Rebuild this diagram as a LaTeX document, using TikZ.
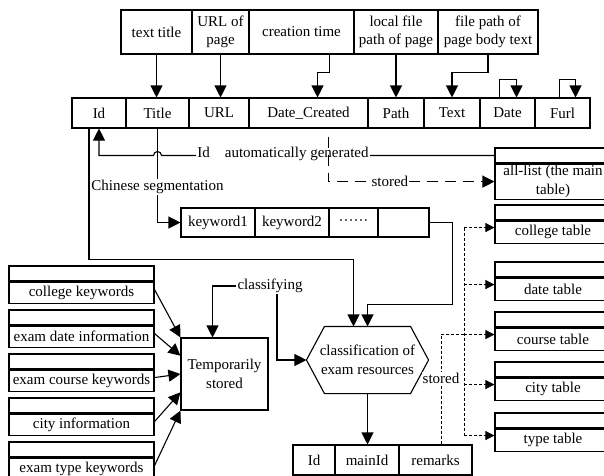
\documentclass[tikz,border=0pt]{standalone}
\usepackage{fontspec}
\setmainfont{Liberation Serif}
\usetikzlibrary{positioning}
\usetikzlibrary{arrows.meta}
\usetikzlibrary{calc}

\begin{document}
\begin{tikzpicture}[x=1pt, y=1pt, line width=1.1pt,
    every node/.style={font=\fontsize{15}{18.5}\selectfont},
    n/.style={draw, inner sep=0pt, align=center},
    wh/.style 2 args={minimum width=#1pt, minimum height=#2pt},
    arr/.style={-{Triangle[length=12pt, width=12pt]}},
    stor/.style={line width=0.8pt, dash pattern=on 3pt off 2pt, -{Triangle[length=9pt, width=9pt]}},
    lbl/.style={fill=white, inner sep=1pt}]
    \useasboundingbox (0,0) rectangle (604,-475);

    % page attributes
    \node[n, wh={71}{44}] (t1) at (156.5,-32) {text title};
    \node[n, wh={57}{44}] (t2) at (220.5,-32) {URL of\\page};
    \node[n, wh={105}{44}] (t3) at (301.5,-32) {creation time};
    \node[n, wh={84}{44}] (t4) at (396,-32) {local file\\path of page};
    \node[n, wh={100}{44}] (t5) at (488,-32) {file path of\\page body text};

    % main record
    \node[n, wh={54}{30}] (m1) at (99,-113) {Id};
    \node[n, wh={63}{30}] (m2) at (157.5,-113) {Title};
    \node[n, wh={60}{30}] (m3) at (219,-113) {URL};
    \node[n, wh={119}{30}] (m4) at (308.5,-113) {Date\_Created};
    \node[n, wh={56}{30}] (m5) at (396,-113) {Path};
    \node[n, wh={56}{30}] (m6) at (452,-113) {Text};
    \node[n, wh={55}{30}] (m7) at (507.5,-113) {Date};
    \node[n, wh={55}{30}] (m8) at (562.5,-113) {Furl};

    \draw[arr] (t1.south) -- (t1.south |- m2.north);
    \draw[arr] (t2.south) -- (t2.south |- m3.north);
    \draw[arr] ([xshift=28pt]t3.south) -- ++(0,-18) -| ([xshift=9pt]m4.north);
    \draw[arr] (t4.south) -- (m5.north);
    \draw[arr] (t5.south) -- ++(0,-18) -| (m6.north);
    \draw[arr] ([xshift=-8pt]m7.north) -- ++(0,18) -| ([xshift=9pt]m7.north);
    \draw[arr] ([xshift=-3pt]m8.north) -- ++(0,18) -| ([xshift=13pt]m8.north);

    % tables
    \node[n, wh={116}{15}] (at) at (553,-155.5) {};
    \node[n, wh={116}{35}, below=0pt of at] (ab) {all-list (the main\\table)};
    \foreach \lab/\yy [count=\i] in {college/205, date/262, course/312, city/362, type/413} {
        \node[n, wh={116}{15}] (ct\i) at (553,-\yy-7.5) {};
        \node[n, wh={116}{22}, below=0pt of ct\i] (cb\i) {\lab\ table};
    }

    % keywords
    \node[n, wh={74}{29}] (k1) at (218,-222.5) {keyword1};
    \node[n, wh={74}{29}] (k2) at (292,-222.5) {keyword2};
    \node[n, wh={49}{29}] (k3) at (353.5,-222.5) {······};
    \node[n, wh={51}{29}] (k4) at (403.5,-222.5) {};

    \draw[arr] (at.west) -- ([xshift=4pt]m2.south |- at.west) arc[start angle=0, end angle=180, radius=4pt] -- (m1.south |- at.west) -- (m1.south);
    \node[lbl] (idg) at (283,-154) {Id\quad automatically generated};
    \draw[arr] (m2.south) |- (k1.west);
    \node[lbl] (seg) at (157.5,-187) {Chinese segmentation};
    \draw[arr, dash pattern=on 11pt off 7pt] ([xshift=20pt, yshift=-8pt]m4.south) |- node[lbl, pos=0.685] (st1) {stored} (ab.west);

    % classification
    \node[inner sep=0pt, wh={121}{66}, align=center] (hex) at (367.5,-360) {classification of\\exam resources};
    \draw (hex.west) -- ([xshift=18pt]hex.north west) -- ([xshift=-18pt]hex.north east) -- (hex.east)
        -- ([xshift=-18pt]hex.south east) -- ([xshift=18pt]hex.south west) -- cycle;
    \draw[arr] ([xshift=-10pt]m1.south) -- ++(0,-131) -| ([xshift=-14pt]hex.north);
    \draw[arr] (k4.east) -- ++(23,0) -- ++(0,-82) -| (hex.north);

    \node[n, wh={87}{72}] (tmp) at (224.5,-374) {Temporarily\\stored};
    \node[lbl] (cls) at (270,-286) {classifying};
    \draw[arr] (cls.west) -| ([xshift=-12pt]tmp.north);
    \draw[arr] ([xshift=7pt]cls.south) |- (hex.west);

    \foreach \lab [count=\i] in {college keywords, exam date information, exam course keywords, city information, exam type keywords} {
        \node[n, wh={145}{15}] (kt\i) at (81.5,-273.5-44*\i+44) {};
        \node[n, wh={145}{21}, below=0pt of kt\i] (kb\i) {\lab};
        \draw[arr] ([yshift=-8pt]kb\i.north east) -- ($(tmp.north west)!{(\i-1)/4}!(tmp.south west)$);
    }

    % result record
    \node[n, wh={42}{30}] (b1) at (314,-460) {Id};
    \node[n, wh={64}{30}] (b2) at (367,-460) {mainId};
    \node[n, wh={73}{30}] (b3) at (435.5,-460) {remarks};
    \draw[arr] (hex.south) -- (hex.south |- b2.north);

    \foreach \i in {1,...,5} \coordinate (tg\i) at ([yshift=-7pt]cb\i.north west);
    \draw[stor, -] ([xshift=-30pt]tg1) -- ([xshift=-30pt]tg5);
    \foreach \i in {1,...,5} \draw[stor] ([xshift=-30pt]tg\i) -- (tg\i);
    \draw[stor, -] ([xshift=5.5pt]b3.north) |- node[lbl, pos=0.3] (st2) {stored} ([xshift=-30pt]tg3);
\end{tikzpicture}
\end{document}
